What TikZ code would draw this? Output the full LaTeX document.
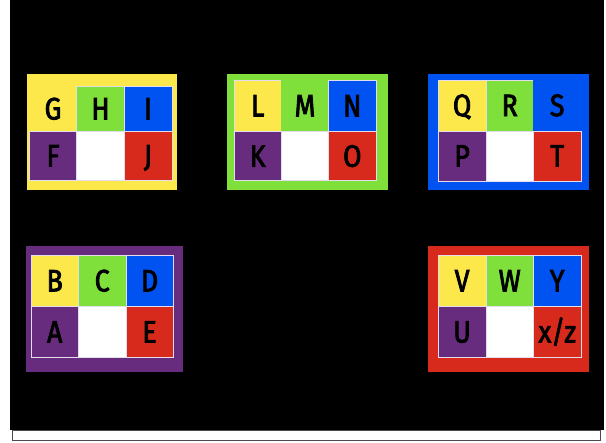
\documentclass[tikz,border=0pt]{standalone}
\usepackage{fontspec}
\usepackage{tikz}
\setmainfont{Fira Sans}
\newfontfamily\tilefont{Fira Sans}[FakeStretch=0.86, FakeBold=2.6]
\definecolor{tileYellow}{HTML}{FDE84B}
\definecolor{tileGreen}{HTML}{7FE03B}
\definecolor{tileBlue}{HTML}{0053F0}
\definecolor{tilePurple}{HTML}{672C7E}
\definecolor{tileRed}{HTML}{D82A1C}
\definecolor{tileEdge}{HTML}{E2DEEC}

\begin{document}
\begin{tikzpicture}[
    x=0.025cm, y=-0.025cm,
    frame/.style={
        draw=none, inner sep=0pt,
        minimum width=4.03cm, minimum height=2.9cm
    },
    cell/.style={
        draw=tileEdge, line width=0.4pt, inner sep=0pt,
        minimum width=1.19cm, minimum height=1.28cm,
        font=\tilefont\fontsize{22}{26}\selectfont,
        text height=15pt, text depth=0pt, text=black
    },
]

\useasboundingbox (0,0) rectangle (606,442);

%% =================================================================
%% Background
%% =================================================================
\fill[white] (0,0) rectangle (606,442);
\fill[black] (10,0) rectangle (604,429.5);
\draw[fill=white, draw=black!70, line width=0.6pt] (12.5,430) rectangle (600.5,440.7);

%% =================================================================
%% Top row: yellow, green, blue
%% =================================================================
\node[frame, fill=tileYellow, minimum width=3.76cm] (ghi) at (101.9,131.9) {};
\node[cell, fill=tileYellow, draw=none, minimum height=1.14cm] (G) at (53.05,108.85) {G};
\node[cell, fill=tileGreen, minimum height=1.14cm] (H) at (100.5,108.85) {H};
\node[cell, fill=tileBlue, minimum height=1.14cm] (I) at (148,108.85) {I};
\node[cell, fill=tilePurple, minimum height=1.21cm] (F) at (53.05,155.85) {F};
\node[cell, fill=white, minimum height=1.21cm] (ghiGap) at (100.5,155.85) {};
\node[cell, fill=tileRed, minimum height=1.21cm] (J) at (148,155.85) {J};

\node[frame, fill=tileGreen, minimum width=4.01cm] (lmn) at (307.5,132) {};
\node[cell, fill=tileYellow, minimum height=1.29cm] (L) at (257.7,105.85) {L};
\node[cell, fill=tileGreen, draw=none, minimum height=1.29cm] (M) at (305,105.85) {M};
\node[cell, fill=tileBlue, minimum height=1.29cm] (N) at (352.3,105.85) {N};
\node[cell, fill=tilePurple, minimum height=1.225cm] (K) at (257.7,156.2) {K};
\node[cell, fill=white, minimum height=1.225cm] (lmnGap) at (305,156.2) {};
\node[cell, fill=tileRed, minimum height=1.225cm] (O) at (352.3,156.2) {O};

\node[frame, fill=tileBlue] (qrs) at (508.8,132) {};
\node[cell, fill=tileYellow, minimum height=1.275cm] (Q) at (462.1,105.5) {Q};
\node[cell, fill=tileGreen, minimum height=1.275cm] (R) at (509.7,105.5) {R};
\node[cell, fill=tileBlue, draw=none, minimum height=1.275cm] (S) at (557.2,105.5) {S};
\node[cell, fill=tilePurple, minimum height=1.25cm] (P) at (462.1,156) {P};
\node[cell, fill=white, minimum height=1.25cm] (qrsGap) at (509.7,156) {};
\node[cell, fill=tileRed, minimum height=1.25cm] (T) at (557.2,156) {T};

%% =================================================================
%% Bottom row: purple, red
%% =================================================================
\node[frame, fill=tilePurple, minimum width=3.93cm, minimum height=3.14cm] (bcd) at (104.7,308.8) {};
\node[cell, fill=tileYellow, minimum height=1.29cm] (B) at (54.7,280.85) {B};
\node[cell, fill=tileGreen, minimum height=1.29cm] (C) at (102.2,280.85) {C};
\node[cell, fill=tileBlue, minimum height=1.29cm] (D) at (149.6,280.85) {D};
\node[cell, fill=tilePurple, minimum height=1.265cm] (A) at (54.7,332) {A};
\node[cell, fill=white, minimum height=1.265cm] (bcdGap) at (102.2,332) {};
\node[cell, fill=tileRed, minimum height=1.265cm] (E) at (149.6,332) {E};

\node[frame, fill=tileRed, minimum height=3.14cm] (vwy) at (508.8,308.8) {};
\node[cell, fill=tileYellow, minimum height=1.29cm] (V) at (462.1,280.85) {V};
\node[cell, fill=tileGreen, minimum height=1.29cm] (W) at (509.7,280.85) {W};
\node[cell, fill=tileBlue, minimum height=1.29cm] (Y) at (557.2,280.85) {Y};
\node[cell, fill=tilePurple, minimum height=1.265cm] (U) at (462.1,332) {U};
\node[cell, fill=white, minimum height=1.265cm] (vwyGap) at (509.7,332) {};
\node[cell, fill=tileRed, minimum height=1.265cm] (XZ) at (557.2,332) {x/z};

\end{tikzpicture}
\end{document}
